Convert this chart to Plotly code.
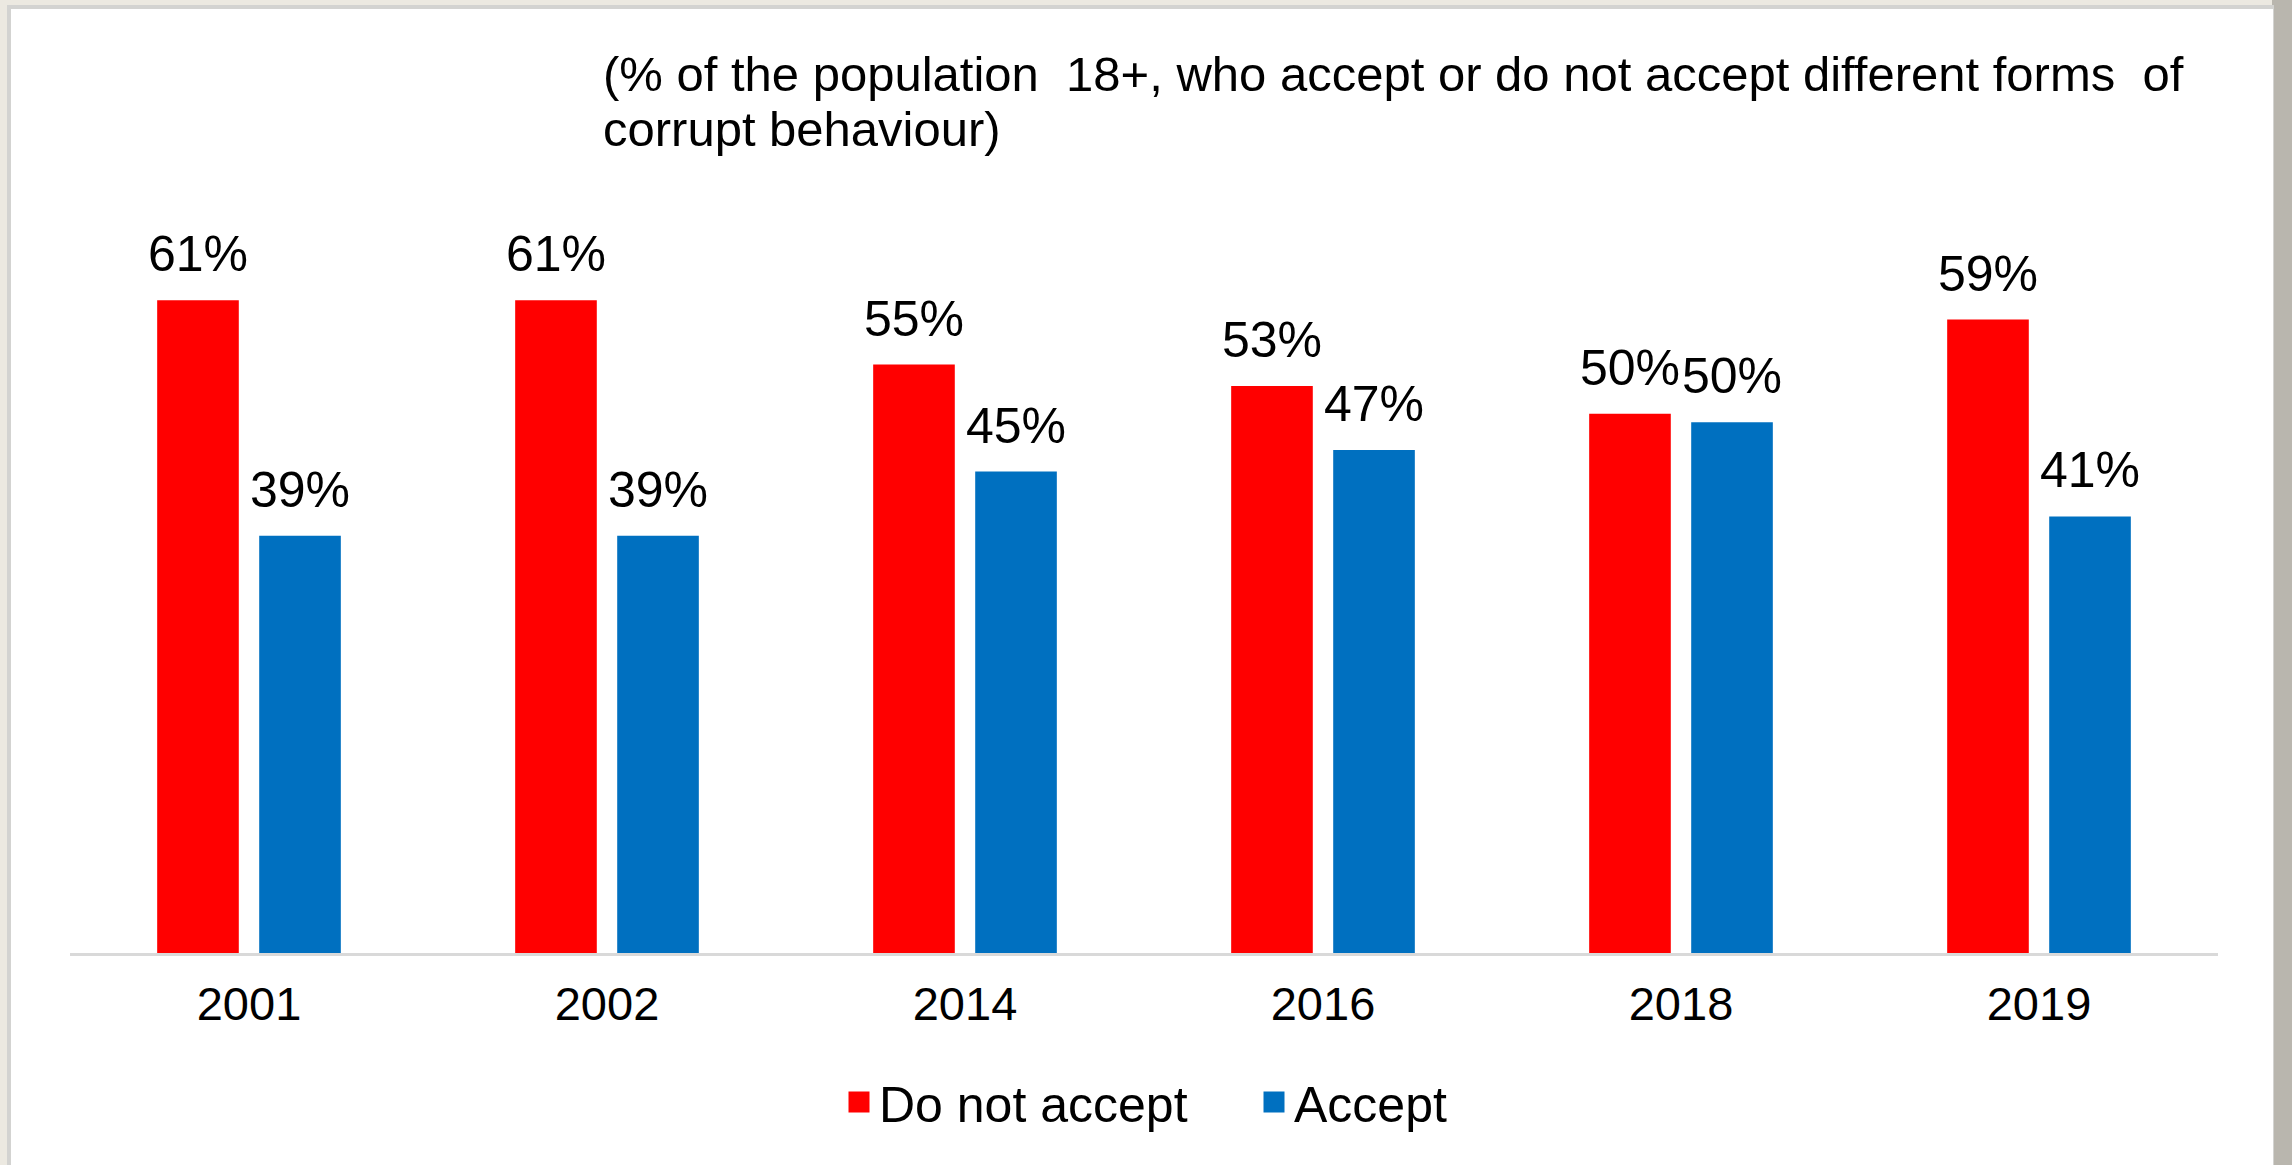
import plotly.graph_objects as go

# ---- data ----
years = ["2001", "2002", "2014", "2016", "2018", "2019"]
do_not_accept = [61, 61, 55, 53, 50.4, 59.2]
accept = [39, 39, 45, 47, 49.6, 40.8]
series_names = ["Do not accept", "Accept"]
title_lines = [
    "(% of the population  18+, who accept or do not accept different forms  of",
    "corrupt behaviour)",
]

RED = "#FF0000"
BLUE = "#0070C0"
FONT = "Arial, Liberation Sans, sans-serif"

W, H = 2292, 1165
L, R, T, B = 70, 74, 97, 212
PW, PH = W - L - R, H - T - B


def px(x):
    return (x - L) / PW


def py(y):
    return (H - B - y) / PH


fig = go.Figure()
for name, vals, col in [(series_names[0], do_not_accept, RED), (series_names[1], accept, BLUE)]:
    fig.add_trace(go.Bar(x=years, y=vals, name=name, marker=dict(color=col, line=dict(width=0)),
                         showlegend=False, hoverinfo="skip", offsetgroup=name))
for name, col in [(series_names[0], RED), (series_names[1], BLUE)]:
    fig.add_trace(go.Scatter(x=[years[0]], y=[None], mode="markers", name=name,
                             marker=dict(symbol="square", size=16, color=col,
                                         line=dict(color=col, width=5)),
                             showlegend=True, hoverinfo="skip"))

annotations = []
for vals, shift in [(do_not_accept, -51), (accept, 51)]:
    for i, v in enumerate(vals):
        annotations.append(dict(x=i, y=v, xref="x", yref="y", text=f"{v:.0f}%",
                                showarrow=False, xanchor="center", yanchor="bottom",
                                xshift=shift, yshift=16,
                                font=dict(family=FONT, size=50, color="#000000")))

for line, center in zip(title_lines, [73.5, 128.5]):
    annotations.append(dict(x=px(602), y=py(center), xref="paper", yref="paper",
                            text=line, showarrow=False, xanchor="left", yanchor="middle",
                            borderpad=0,
                            font=dict(family=FONT, size=49, color="#000000")))

shapes = [
    dict(type="rect", xref="paper", yref="paper", x0=px(2272), x1=px(2292), y0=py(H + 20), y1=py(0),
         fillcolor="#B9B6AE", line=dict(width=0), layer="below"),
    dict(type="rect", xref="paper", yref="paper", x0=px(7), x1=px(2274), y0=py(H + 20), y1=py(5),
         fillcolor="#D3D3D1", line=dict(width=0), layer="below"),
    dict(type="rect", xref="paper", yref="paper", x0=px(11), x1=px(2273), y0=py(H + 20), y1=py(9),
         fillcolor="#FFFFFF", line=dict(width=0), layer="below"),
]

fig.update_layout(
    width=W, height=H,
    margin=dict(l=L, r=R, t=T, b=B, pad=0),
    paper_bgcolor="#ECE9E1",
    plot_bgcolor="rgba(0,0,0,0)",
    barmode="group", bargap=0.43, bargroupgap=0.2,
    font=dict(family=FONT, color="#000000"),
    showlegend=True,
    legend=dict(orientation="h", x=px(839), xanchor="left", y=py(1102), yanchor="middle",
                font=dict(family=FONT, size=50, color="#000000"),
                entrywidth=370, entrywidthmode="pixels",
                bgcolor="rgba(0,0,0,0)", borderwidth=0),
    xaxis=dict(type="category", categoryorder="array", categoryarray=years,
               range=[-0.5, len(years) - 0.5], autorange=False,
               showline=True, linecolor="#D9D9D9", linewidth=3,
               showgrid=False, zeroline=False, ticks="", ticklabelstandoff=8,
               tickfont=dict(family=FONT, size=47, color="#000000"), fixedrange=True),
    yaxis=dict(range=[0, 80], autorange=False, visible=False, showgrid=False,
               zeroline=False, fixedrange=True),
    annotations=annotations,
    shapes=shapes,
)

fig.write_html(
    "out.html",
    config={"displayModeBar": False},
    post_script="document.body.style.margin='0';document.body.style.background='#ECE9E1';",
)
